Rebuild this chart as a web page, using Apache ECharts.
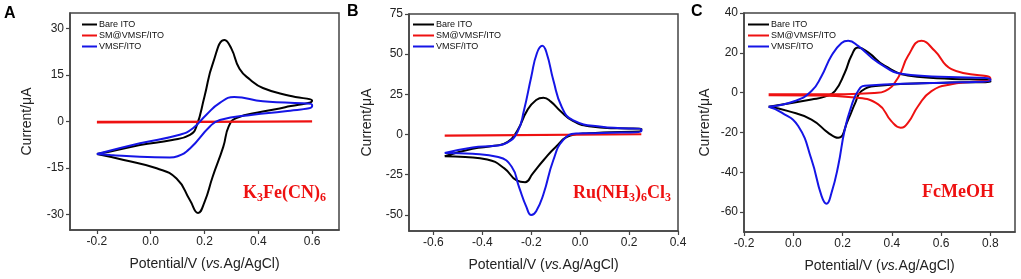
<!DOCTYPE html>
<html>
<head>
<meta charset="utf-8">
<script src="https://cdn.jsdelivr.net/npm/echarts@6/dist/echarts.min.js"></script>
<style>
  html, body { margin: 0; padding: 0; background: #fff; }
  #chart { width: 1021px; height: 279px; }
</style>
</head>
<body>
<div id="chart"></div>
<script>
// series names
const names = ['Bare ITO', 'SM@VMSF/ITO', 'VMSF/ITO'];

// panel A: K3Fe(CN)6, [potential V, current uA], forward scan then back
const bareA = [[-0.2, -10.5], [-0.15, -9.7], [-0.04, -7.6], [0.08, -6], [0.146, -4.3], [0.17, -1.6], [0.2, 8.1],
  [0.232, 19], [0.275, 26.3], [0.3, 23.5], [0.33, 17], [0.37, 13.5], [0.417, 10.8], [0.516, 8.3], [0.6, 6.7],
  [0.5, 4.6], [0.417, 3.2], [0.318, 1.1], [0.29, -1.6], [0.27, -8.1], [0.23, -17.9], [0.2, -26],
  [0.176, -29.5], [0.146, -25.4], [0.096, -18.4], [0.022, -15.1], [-0.1, -12.4], [-0.2, -10.5]];
const smA = [[-0.2, -0.1], [0.6, 0.0], [0.6, -0.2], [-0.2, -0.3]];
const vmsfA = [[-0.2, -10.5], [-0.04, -7], [0.108, -4.3], [0.157, -2.2], [0.207, 2.2], [0.257, 6], [0.31, 7.9],
  [0.417, 6.5], [0.6, 5.4], [0.6, 4.9], [0.5, 3.3], [0.38, 2.2], [0.257, 0.5], [0.22, -1.6], [0.146, -8.7],
  [0.1, -11.2], [0.071, -11.6], [-0.04, -11.4], [-0.15, -10.8], [-0.2, -10.5]];

// panel B: Ru(NH3)6Cl3
const bareB = [[-0.554, -13.5], [-0.44, -8.8], [-0.35, -7], [-0.296, -4.6], [-0.256, 2.7], [-0.216, 15.2],
  [-0.18, 21.5], [-0.15, 22.9], [-0.12, 20.5], [-0.08, 14.5], [-0.03, 8.5], [0.036, 5.2], [0.15, 3.9], [0.25, 3.7],
  [0.25, 2.7], [0.036, 0.8], [-0.04, -0.6], [-0.1, -7.7], [-0.15, -16], [-0.195, -24.4], [-0.225, -29.6],
  [-0.26, -28.5], [-0.31, -21], [-0.38, -15.5], [-0.47, -14], [-0.554, -13.5]];
const smB = [[-0.554, -0.6], [0.25, 0.2], [0.25, 0.0], [-0.554, -0.8]];
const vmsfB = [[-0.554, -11.5], [-0.44, -8], [-0.35, -7], [-0.3, -5.2], [-0.256, 1.7], [-0.23, 15],
  [-0.2, 36], [-0.177, 50.6], [-0.155, 55.2], [-0.137, 50.6], [-0.11, 34], [-0.075, 17], [-0.03, 9],
  [0.088, 4.8], [0.25, 3.1], [0.25, 2.1], [0.088, 1], [-0.017, 0.6], [-0.07, -3.5], [-0.11, -16],
  [-0.15, -37], [-0.18, -47.7], [-0.2, -50], [-0.22, -45], [-0.25, -32.7], [-0.28, -20],
  [-0.335, -14], [-0.44, -12], [-0.554, -11.5]];

// panel C: FcMeOH
const bareC = [[-0.1, -7.1], [0.074, -3.4], [0.128, -2], [0.169, 0.8], [0.209, 10], [0.236, 18.5],
  [0.263, 22.7], [0.304, 20.2], [0.372, 13.4], [0.48, 8.4], [0.8, 5.9],
  [0.8, 5.4], [0.615, 5], [0.345, 3.4], [0.277, 0.8], [0.252, -5], [0.223, -13.5], [0.182, -22.7],
  [0.142, -20.2], [0.074, -13.5], [-0.02, -9.3], [-0.1, -7.1]];
const smC = [[-0.1, -0.8], [0.209, -0.8], [0.33, -0.2], [0.372, 0.8], [0.426, 7.6], [0.466, 18.5],
  [0.52, 26], [0.574, 21], [0.642, 11.8], [0.8, 7.1], [0.8, 6.6], [0.642, 4.2],
  [0.561, 0.8], [0.507, -6.7], [0.466, -15.1], [0.436, -17.6], [0.398, -14.3], [0.345, -5.9],
  [0.25, -2.5], [0.074, -1.4], [-0.1, -1.3]];
const vmsfC = [[-0.1, -7.1], [0.007, -4.2], [0.074, 0.8], [0.115, 8.4], [0.155, 18.5], [0.196, 24.9],
  [0.223, 26], [0.263, 23.5], [0.345, 15.1], [0.453, 9.2], [0.8, 6.7],
  [0.8, 6.1], [0.555, 4.8], [0.29, 3.4], [0.263, 0.8], [0.236, -6.7], [0.209, -18.5], [0.182, -37],
  [0.155, -50.4], [0.135, -55.8], [0.115, -52], [0.074, -33.6], [0.02, -16.8], [-0.047, -10], [-0.1, -7.1]];

// tick labels
const xTicksA = [-0.2, 0.0, 0.2, 0.4, 0.6];
const yTicksA = [-30, -15, 0, 15, 30];
const xTicksB = [-0.6, -0.4, -0.2, 0.0, 0.2, 0.4];
const yTicksB = [-50, -25, 0, 25, 50, 75];
const xTicksC = [-0.2, 0.0, 0.2, 0.4, 0.6, 0.8];
const yTicksC = [-60, -40, -20, 0, 20, 40];

const colors = ['#000000', '#ee1111', '#1515e6'];
const font = '"Liberation Sans", Arial, sans-serif';
const serif = '"Liberation Serif", "Times New Roman", serif';

function xAxis(idx, min, max, ticks) {
  return {
    type: 'value', gridIndex: idx, min: min, max: max,
    name: '{n|Potential/V (}{i|vs.}{n|Ag/AgCl)}',
    nameLocation: 'middle', nameGap: 27,
    nameTextStyle: {
      rich: {
        n: { fontFamily: font, fontSize: 14, color: '#222' },
        i: { fontFamily: font, fontSize: 14, fontStyle: 'italic', color: '#222' }
      }
    },
    splitLine: { show: false },
    axisLine: { onZero: false, lineStyle: { color: '#444', width: 1.5 } },
    axisTick: { customValues: ticks, length: 4, lineStyle: { color: '#444', width: 1.2 } },
    axisLabel: {
      customValues: ticks, margin: 6, fontFamily: font, fontSize: 12, color: '#222',
      formatter: v => v.toFixed(1)
    }
  }
}

function yAxis(idx, min, max, ticks, gap) {
  return {
    type: 'value', gridIndex: idx, min: min, max: max,
    name: 'Current/μA', nameLocation: 'middle', nameGap: gap,
    nameTextStyle: { fontFamily: font, fontSize: 14, color: '#222' },
    splitLine: { show: false },
    axisLine: { onZero: false, lineStyle: { color: '#444', width: 1.5 } },
    axisTick: { customValues: ticks, length: 4, lineStyle: { color: '#444', width: 1.2 } },
    axisLabel: { customValues: ticks, margin: 6, fontFamily: font, fontSize: 12, color: '#222' }
  }
}

function cv(name, data, idx, color) {
  return {
    name: name, type: 'line', data: data, xAxisIndex: idx, yAxisIndex: idx,
    smooth: 0.5, showSymbol: false, color: color,
    lineStyle: { width: 2, color: color }
  }
}

function legend(left, lineW) {
  return {
    left: left, top: 19, orient: 'vertical', icon: 'rect',
    itemWidth: lineW, itemHeight: 2, itemGap: 0, padding: 0, selectedMode: false,
    data: names,
    textStyle: { fontFamily: font, fontSize: 9, lineHeight: 11, color: '#111', padding: [0, 0, 0, -3] }
  }
}

function label(x, y, text) {
  return {
    type: 'text', left: x, top: y,
    style: {
      text: text,
      rich: {
        b: { fontFamily: serif, fontSize: 18, fontWeight: 'bold', fill: '#ee1111' },
        s: { fontFamily: serif, fontSize: 12, fontWeight: 'bold', fill: '#ee1111', padding: [9, 0, 0, 0] }
      }
    }
  }
}

function letter(x, y, text) {
  return {
    type: 'text', left: x, top: y,
    style: { text: text, font: 'bold 16px "Liberation Sans", Arial', fill: '#000' }
  }
}

const chart = echarts.init(document.getElementById('chart'));
chart.setOption({
  backgroundColor: '#fff',
  animation: false,
  grid: [
    { left: 70, top: 13, width: 269, height: 217, show: true, borderColor: '#444', borderWidth: 1.5 },
    { left: 409, top: 14, width: 269, height: 217, show: true, borderColor: '#444', borderWidth: 1.5 },
    { left: 744, top: 13, width: 271, height: 219, show: true, borderColor: '#444', borderWidth: 1.5 }
  ],
  xAxis: [
    xAxis(0, -0.3, 0.7, xTicksA),
    xAxis(1, -0.7, 0.4, xTicksB),
    xAxis(2, -0.2, 0.9, xTicksC)
  ],
  yAxis: [
    yAxis(0, -35, 35, yTicksA, 36),
    yAxis(1, -60, 75, yTicksB, 35),
    yAxis(2, -70, 40, yTicksC, 32)
  ],
  legend: [legend(82, 15), legend(413, 21), legend(748, 21)],
  series: [
    cv(names[0], bareA, 0, colors[0]), cv(names[1], smA, 0, colors[1]), cv(names[2], vmsfA, 0, colors[2]),
    cv(names[0], bareB, 1, colors[0]), cv(names[1], smB, 1, colors[1]), cv(names[2], vmsfB, 1, colors[2]),
    cv(names[0], bareC, 2, colors[0]), cv(names[1], smC, 2, colors[1]), cv(names[2], vmsfC, 2, colors[2])
  ],
  graphic: [
    letter(4, 6, 'A'), letter(347, 4, 'B'), letter(691, 4, 'C'),
    label(243, 184, '{b|K}{s|3}{b|Fe(CN)}{s|6}'),
    label(573, 184, '{b|Ru(NH}{s|3}{b|)}{s|6}{b|Cl}{s|3}'),
    label(922, 183, '{b|FcMeOH}')
  ]
});
</script>
</body>
</html>
